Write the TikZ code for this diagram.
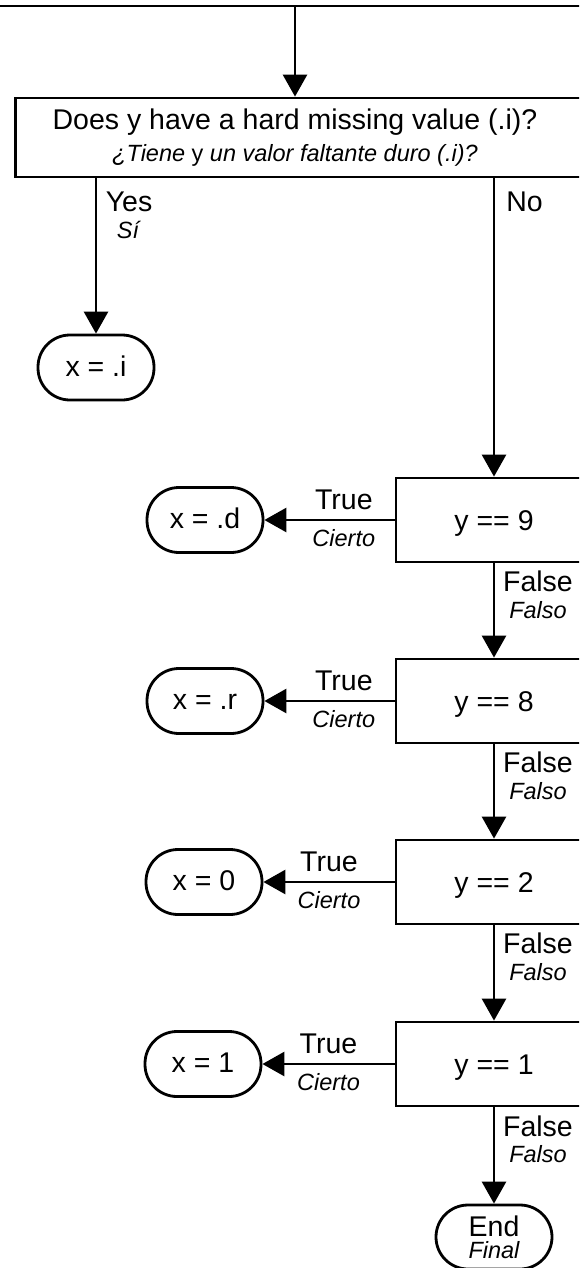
\documentclass[tikz,border=0pt]{standalone}
\usepackage{fontspec}
\setmainfont{Liberation Sans}
\usetikzlibrary{arrows.meta}
\newcommand{\mainsz}{\fontsize{28.5}{32}\selectfont}
\newcommand{\itsz}{\fontsize{23.5}{26}\selectfont\itshape}
\begin{document}
\begin{tikzpicture}[x=1pt,y=-1pt,
  lw/.style={line width=2.8pt},
  qbox/.style={draw, lw, rectangle, minimum width=620pt, minimum height=79pt, inner sep=0pt},
  dec/.style={draw, lw, rectangle, minimum width=196pt, minimum height=84pt, inner sep=0pt, font=\mainsz, text height=20pt, text depth=0pt},
  term/.style={draw, lw, rounded corners=32pt, minimum width=116pt, minimum height=65pt, inner sep=0pt, font=\mainsz, text height=17pt, text depth=0pt},
  conn/.style={lw, -{Triangle[length=22pt,width=24pt]}},
  mtxt/.style={font=\mainsz, inner sep=0pt, anchor=base},
  itxt/.style={font=\itsz, inner sep=0pt, anchor=base},
]
\useasboundingbox (0,0) rectangle (579,1268);
\clip (0,0) rectangle (579,1268);

% top bus line
\coordinate (busL) at (-20,6);
\coordinate (busR) at (620,6);
\coordinate (bus) at (295,6);
\draw[lw] (busL) -- (busR);

% question box
\node[qbox, anchor=west] (q) at (14,137.5) {};
\node[mtxt] (qa) at (295,130) {Does y have a hard missing value (.i)?};
\node[itxt] (qb) at (295,162) {¿Tiene {\upshape y} un valor faltante duro (.i)?};

\draw[conn] (bus) -- (bus |- q.north);

% terminals and decisions
\node[term] (ti) at (96,367.5) {x = .i};

\node[dec] (d9) at (494,520) {y == 9};
\node[dec] (d8) at (494,701) {y == 8};
\node[dec] (d2) at (494,882) {y == 2};
\node[dec] (d1) at (494,1064) {y == 1};

\node[term] (t9) at (205,520) {x = .d};
\node[term] (t8) at (205,701) {x = .r};
\node[term] (t2) at (204,882) {x = 0};
\node[term] (t1) at (203,1064) {x = 1};

\node[term, minimum height=64pt] (end) at (494,1237) {};
\node[mtxt] (endA) at (494,1236) {End};
\node[itxt] (endB) at (494,1258) {Final};

% Yes / No
\draw[conn] (ti |- q.south) --
  node[pos=0, mtxt, xshift=33pt, yshift=-33pt] {Yes}
  node[pos=0, itxt, xshift=32pt, yshift=-60pt] {Sí} (ti.north);
\draw[conn] (d9 |- q.south) --
  node[pos=0, mtxt, xshift=30.5pt, yshift=-33pt] {No} (d9.north);

% True branches
\draw[conn] (d9.west) --
  node[pos=.39, mtxt, yshift=11pt] {True}
  node[pos=.39, itxt, yshift=-26pt] {Cierto} (t9.east);
\draw[conn] (d8.west) --
  node[pos=.39, mtxt, yshift=11pt] {True}
  node[pos=.39, itxt, yshift=-26pt] {Cierto} (t8.east);
\draw[conn] (d2.west) --
  node[pos=.5, mtxt, yshift=11pt] {True}
  node[pos=.5, itxt, yshift=-26pt] {Cierto} (t2.east);
\draw[conn] (d1.west) --
  node[pos=.5, mtxt, yshift=11pt] {True}
  node[pos=.5, itxt, yshift=-26pt] {Cierto} (t1.east);

% False branches
\draw[conn] (d9.south) --
  node[pos=0, mtxt, xshift=44pt, yshift=-28pt] {False}
  node[pos=0, itxt, xshift=44pt, yshift=-55pt] {Falso} (d8.north);
\draw[conn] (d8.south) --
  node[pos=0, mtxt, xshift=44pt, yshift=-28pt] {False}
  node[pos=0, itxt, xshift=44pt, yshift=-55pt] {Falso} (d2.north);
\draw[conn] (d2.south) --
  node[pos=0, mtxt, xshift=44pt, yshift=-28pt] {False}
  node[pos=0, itxt, xshift=44pt, yshift=-55pt] {Falso} (d1.north);
\draw[conn] (d1.south) --
  node[pos=0, mtxt, xshift=44pt, yshift=-29pt] {False}
  node[pos=0, itxt, xshift=44pt, yshift=-55pt] {Falso} (end.north);
\end{tikzpicture}
\end{document}
